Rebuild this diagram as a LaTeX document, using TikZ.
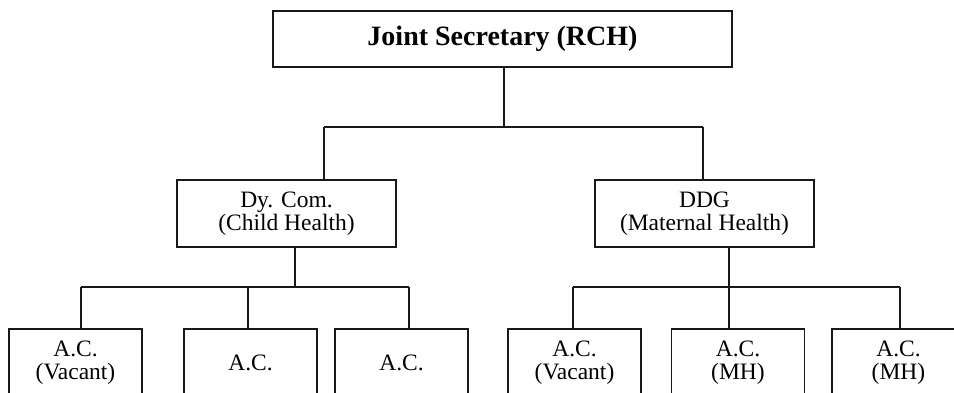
\documentclass[tikz,border=0pt]{standalone}
\usepackage{fontspec}
\setmainfont{Liberation Serif}
\tikzset{
  ln/.style={line width=1.8pt, draw=black!90},
  boxbase/.style={ln, rectangle, inner sep=0pt, align=center, font=\fontsize{23.5}{23.5}\selectfont},
  topbox/.style={boxbase, minimum width=459pt, minimum height=56pt, font=\fontsize{28}{28}\selectfont\bfseries},
  midbox/.style={boxbase, minimum width=219pt, minimum height=67pt},
  leafbox/.style={boxbase, minimum width=133pt, minimum height=67pt}
}
\begin{document}
\begin{tikzpicture}[x=1pt,y=-1pt]
\clip (0,0) rectangle (954,392);
\fill[white] (0,0) rectangle (954,392);
\node[topbox] (js) at (502.5,39) {Joint Secretary (RCH)};
\node[midbox] (dc) at (286.5,213.5) {Dy. Com.\\(Child Health)};
\node[midbox] (ddg) at (704.5,213.5) {DDG\\(Maternal Health)};
\node[leafbox] (c1) at (75.5,362.5) {A.C.\\(Vacant)};
\node[leafbox] (c2) at (250.5,362.5) {A.C.};
\node[leafbox] (c3) at (401.5,362.5) {A.C.};
\node[leafbox] (c4) at (574.5,362.5) {A.C.\\(Vacant)};
\node[leafbox] (c5) at (738,362.5) {A.C.\\(MH)};
\node[leafbox] (c6) at (898.5,362.5) {A.C.\\(MH)};
% junctions
\coordinate (t0) at (504,127);
\coordinate (tl) at (324,127);
\coordinate (tr) at (703,127);
\coordinate (l0) at (295,287);
\coordinate (l1) at (81,287);
\coordinate (l2) at (248,287);
\coordinate (l3) at (409,287);
\coordinate (r0) at (729,287);
\coordinate (r1) at (573,287);
\coordinate (r2) at (729,287);
\coordinate (r3) at (900,287);
% connectors
\draw[ln] (t0 |- js.south) -- (t0);
\draw[ln] (tl) -- (tr);
\draw[ln] (tl) -- (tl |- dc.north);
\draw[ln] (tr) -- (tr |- ddg.north);
\draw[ln] (l0 |- dc.south) -- (l0);
\draw[ln] (l1) -- (l3);
\draw[ln] (l1) -- (l1 |- c1.north);
\draw[ln] (l2) -- (l2 |- c2.north);
\draw[ln] (l3) -- (l3 |- c3.north);
\draw[ln] (r0 |- ddg.south) -- (r0);
\draw[ln] (r1) -- (r3);
\draw[ln] (r1) -- (r1 |- c4.north);
\draw[ln] (r2) -- (r2 |- c5.north);
\draw[ln] (r3) -- (r3 |- c6.north);
\end{tikzpicture}
\end{document}
